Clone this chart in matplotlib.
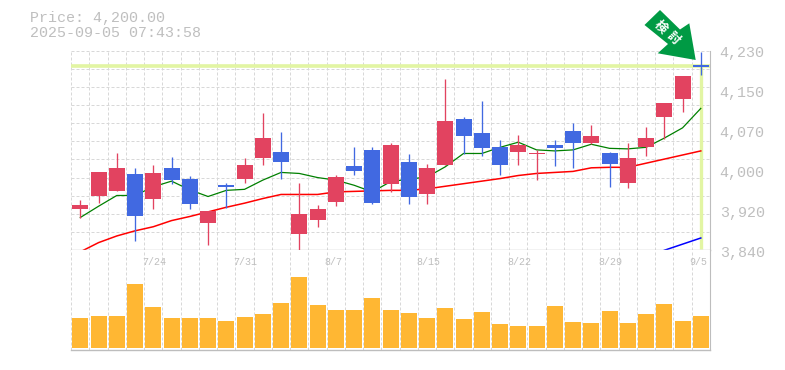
import matplotlib
matplotlib.use("Agg")
import matplotlib.pyplot as plt
from matplotlib.patches import Polygon, Rectangle

opens = [3921, 3946, 3956, 3989, 3940, 4000, 3979, 3893, 3967, 3979, 4020, 4032,
         3872, 3899, 3934, 4004, 4036, 3969, 4012, 3950, 4006, 4096, 4069, 4041,
         4032, 4028, 4045, 4073, 4049, 4030, 3971, 4041, 4100, 4135, 4200]
highs = [3938, 3993, 4030, 4000, 4006, 4022, 3985, 3917, 3971, 4020, 4108, 4071,
         3971, 3928, 3987, 4041, 4041, 4049, 4028, 4008, 4174, 4100, 4131, 4055,
         4065, 4035, 4055, 4088, 4084, 4032, 4049, 4080, 4127, 4180, 4227]
lows = [3904, 3932, 3956, 3858, 3921, 3969, 3921, 3850, 3922, 3971, 4006, 3979,
        3840, 3885, 3926, 3987, 3930, 3954, 3930, 3930, 4006, 4028, 4024, 3987,
        4006, 3977, 4004, 4000, 4047, 3963, 3961, 4024, 4057, 4110, 4182]
closes = [3928, 3993, 4000, 3907, 3991, 3977, 3930, 3917, 3963, 4006, 4059, 4012,
          3911, 3921, 3983, 3995, 3932, 4045, 3944, 4000, 4092, 4063, 4040, 4006,
          4045, 4030, 4040, 4049, 4063, 4008, 4020, 4059, 4127, 4180, 4200]
ma_short = [3904, 3926, 3947, 3947, 3964, 3975, 3958, 3945, 3957, 3959, 3977, 3992,
            3990, 3982, 3977, 3967, 3954, 3974, 3979, 3983, 4003, 4029, 4029, 4041,
            4051, 4036, 4034, 4036, 4047, 4039, 4038, 4041, 4059, 4079, 4117]
ma_mid = [3837, 3855, 3868, 3878, 3886, 3898, 3906, 3915, 3924, 3932, 3941, 3949,
          3949, 3949, 3954, 3955, 3956, 3957, 3957, 3960, 3965, 3970, 3975, 3980,
          3986, 3990, 3992, 3994, 4001, 4002, 4002, 4010, 4018, 4026, 4034]
ma_long = [3840, 3852, 3864]
ma_long_days = [32, 33, 34]
volume = [30, 32, 32, 64, 41, 30, 30, 30, 27, 31, 34, 45, 71, 43, 38, 38, 50, 38,
          35, 30, 40, 29, 36, 24, 22, 22, 42, 26, 25, 37, 25, 34, 44, 27, 32]
date_days = [4, 9, 14, 19, 24, 29, 34]
date_labels = ["7/24", "7/31", "8/7", "8/15", "8/22", "8/29", "9/5"]
price_ticks = [3840, 3918, 3996, 4074, 4152, 4230]
price_labels = ["3,840", "3,920", "4,000", "4,070", "4,150", "4,230"]
last_price = 4200

W, H = 785, 370
RED = "#e24360"
BLUE = "#4169e1"
LINE = "#bdbdbd"
TEXT = "#bfbfbf"
GRID = "#d8d8d8"
MONO = "Liberation Mono"

def pane(left, top, right, bottom):
    return fig.add_axes([left / W, 1 - bottom / H, (right - left) / W, (bottom - top) / H])

fig = plt.figure(figsize=(W / 100, H / 100), dpi=100)
ax = pane(70.5, 50.5, 710, 250.3)
vol = pane(70.5, 250.3, 710, 349.7)

# one day is 18.25 px, first day centred 9.8 px in from the left edge
xlim = (-9.8 / 18.25, (710 - 80.3) / 18.25)
days = range(len(opens))

for a in (ax, vol):
    a.set_xlim(*xlim)
    a.set_xticks([i - 0.5 for i in range(36)])
    a.tick_params(length=0, labelbottom=False, labelleft=False)
    a.grid(axis="x", color=GRID, lw=0.72, ls=(0, (3, 2)))
    a.set_axisbelow(True)
    for s in a.spines.values():
        s.set_visible(False)
    a.spines["right"].set_visible(True)
    a.spines["right"].set_color(LINE)
    a.spines["bottom"].set_visible(True)
    a.spines["bottom"].set_color(LINE)
    a.spines["bottom"].set_linewidth(1.0)

ax.set_ylim(3840, 4230)
ax.set_yticks([3840 + i * 390 / 11 for i in range(12)])
ax.grid(axis="y", color=GRID, lw=0.72, ls=(0, (3, 2)))

# current price guides
ax.axhline(last_price, color="#e2f5a3", lw=2.6, zorder=1)
ax.plot([34, 34], [3842, last_price], color="#e2f5a3", lw=2.4, zorder=1,
        solid_capstyle="butt")

ax.plot(days, ma_short, color="#008000", lw=0.9, zorder=2)
ax.plot(days, ma_mid, color="#ff0000", lw=1.1, zorder=2)
ax.plot(ma_long_days, ma_long, color="#0000ff", lw=1.1, zorder=2)

for i in days:
    c = RED if closes[i] > opens[i] else BLUE
    ax.plot([i, i], [lows[i], highs[i]], color=c, lw=0.95, zorder=3,
            solid_capstyle="butt")
    gap = abs(closes[i] - opens[i])
    height = gap if gap else 4
    low = min(opens[i], closes[i]) - (height - gap) / 2
    ax.add_patch(Rectangle((i - 0.44, low), 0.88, height, color=c, lw=0, zorder=4))

vol.set_ylim(-1.7, 97.7)
vol.bar(list(days), volume, width=0.88, color="#ffb733", zorder=2)

for d, t in zip(date_days, date_labels):
    vol.annotate(t, xy=(d, 1), xycoords=("data", "axes fraction"), xytext=(-8, -8.5),
                 textcoords="offset points", ha="left", va="center", color=TEXT,
                 family=MONO, fontsize=7.2)

for p, t in zip(price_ticks, price_labels):
    ax.annotate(t, xy=(1, p), xycoords=("axes fraction", "data"), xytext=(7, -2),
                textcoords="offset points", ha="left", va="center", color=TEXT,
                family=MONO, fontsize=10.8)

fig.text(30 / W, 1 - 18 / H, "Price: 4,200.00", color=TEXT, family=MONO, fontsize=10.8,
         va="center")
fig.text(30 / W, 1 - 33 / H, "2025-09-05 07:43:58", color=TEXT, family=MONO, fontsize=10.8,
         va="center")

# green badge above the last day
arrow_x = [644.5, 660, 680, 689.3, 695.7, 657.7, 668]
arrow_y = [25, 10, 29.5, 23.3, 60, 53.3, 44]
fig.add_artist(Polygon([(x / W, 1 - y / H) for x, y in zip(arrow_x, arrow_y)],
                       closed=True, transform=fig.transFigure, color="#009a44", lw=0))
for ch, cx, cy in [("検", 660.5, 27.5), ("討", 673, 38)]:
    fig.text(cx / W, 1 - cy / H, ch, color="white", family="Noto Sans CJK JP",
             fontweight="bold", fontsize=9, rotation=-45, ha="center", va="center",
             rotation_mode="anchor")

fig.savefig("out.png", dpi=100)
